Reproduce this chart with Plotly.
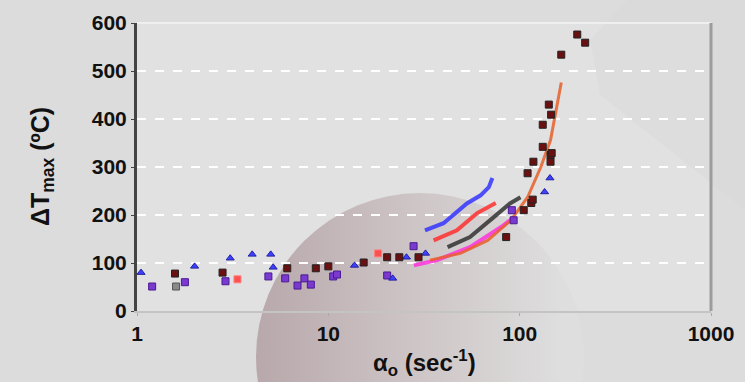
import base64
import plotly.graph_objects as go

# ---------------- data ----------------
blue_tri_x = [1.05, 2.0, 3.07, 4.0, 5.0, 5.15, 13.7, 21.7, 25.6, 32.2, 135, 144]
blue_tri_y = [80, 93, 110, 118, 118, 91, 95, 68, 112, 120, 248, 277]

purple_x = [1.2, 1.78, 2.9, 4.86, 5.95, 6.9, 7.5, 8.1, 10.6, 11.1, 20.3, 27.9, 91, 93]
purple_y = [51, 60, 62, 72, 68, 53, 68, 55, 72, 76, 74, 135, 210, 189]

dark_x = [1.58, 2.8, 6.1, 8.6, 10.0, 15.3, 20.3, 23.5, 29.6, 85, 105, 110, 115, 117,
          118, 132, 132, 142, 145, 145, 146, 147, 165, 200, 220]
dark_y = [78, 80, 89, 89, 93, 101, 112, 112, 112, 154, 210, 287, 225, 232,
          311, 342, 388, 430, 311, 325, 409, 329, 534, 576, 559]

gray_x = [1.6]
gray_y = [51]

red_pt_x = [3.35, 18.2]
red_pt_y = [66, 120]

blue_curve_x = [32, 40, 53, 62.5, 69, 72]
blue_curve_y = [168, 183, 224, 241, 258, 277]

red_curve_x = [35.5, 47, 60, 70, 75]
red_curve_y = [147, 168, 204, 220, 225]

black_curve_x = [42, 55, 73, 89, 101]
black_curve_y = [133, 154, 195, 224, 237]

magenta_curve_x = [28, 37, 55, 80, 93]
magenta_curve_y = [95, 106, 133, 175, 195]

fit_x = [34, 49, 68, 90, 110, 129, 145, 165]
fit_y = [106, 120, 147, 189, 237, 300, 356, 476]

x_ticks = [1, 10, 100, 1000]
y_ticks = [0, 100, 200, 300, 400, 500, 600]

# ---------------- geometry ----------------
W, H = 745, 382
ML, MR, MT, MB = 137, 34, 23, 71
PW, PH = W - ML - MR, H - MT - MB

FONT = "Liberation Sans, Arial, sans-serif"

# decorative slide background as an inline SVG
svg = f"""<svg xmlns="http://www.w3.org/2000/svg" width="{W}" height="{H}" viewBox="0 0 {W} {H}">
<defs>
<linearGradient id="g" x1="256" y1="0" x2="560" y2="0" gradientUnits="userSpaceOnUse">
<stop offset="0" stop-color="#b8a8ab"/>
<stop offset="0.45" stop-color="#cbc1c2"/>
<stop offset="1" stop-color="#dedede"/>
</linearGradient>
</defs>
<rect width="{W}" height="{H}" fill="#dcdcdc"/>
<rect x="{ML}" y="{MT}" width="{PW}" height="{PH}" fill="#e1e1e1"/>
<polygon points="627,0 745,0 745,210 600,95 590,40" fill="#d6d6d6" opacity="0.35"/>
<circle cx="420" cy="357" r="164" fill="url(#g)"/>
</svg>"""
svg_uri = "data:image/svg+xml;base64," + base64.b64encode(svg.encode()).decode()

fig = go.Figure()

def curve(x, y, color, width):
    fig.add_trace(go.Scatter(x=x, y=y, mode="lines", line=dict(color=color, width=width),
                             opacity=0.85, showlegend=False, hoverinfo="skip"))

def pts(x, y, color, symbol, line_color):
    fig.add_trace(go.Scatter(x=x, y=y, mode="markers",
                             marker=dict(color=color, symbol=symbol, size=7,
                                         line=dict(color=line_color, width=1)),
                             showlegend=False, hoverinfo="skip"))

curve(magenta_curve_x, magenta_curve_y, "#ff33dd", 4)
curve(black_curve_x, black_curve_y, "#333333", 4)
curve(red_curve_x, red_curve_y, "#ff3030", 4)
curve(blue_curve_x, blue_curve_y, "#3535ff", 4)
curve(fit_x, fit_y, "#e8602a", 3)

pts(gray_x, gray_y, "#8a8a8a", "square", "#555555")
pts(red_pt_x, red_pt_y, "#ff5050", "square", "#ff8080")
pts(purple_x, purple_y, "#7a3ad0", "square", "#4a1a90")
pts(blue_tri_x, blue_tri_y, "#4040ff", "triangle-up", "#2020a0")
pts(dark_x, dark_y, "#6a1010", "square", "#222222")

shapes = [
    dict(type="line", xref="paper", yref="paper", x0=0, x1=1, y0=1, y1=1,
         line=dict(color="#efefef", width=2), layer="below"),
    dict(type="line", xref="paper", yref="paper", x0=1, x1=1, y0=0, y1=1,
         line=dict(color="#9c9c9c", width=3), layer="below"),
]

annotations = [
    dict(text="<b>ΔT<sub>max</sub> (ºC)</b>", xref="paper", yref="paper",
         x=(42 - ML) / PW, y=(MT + PH - 167) / PH, textangle=-90, showarrow=False,
         xanchor="center", yanchor="middle",
         font=dict(size=25, family=FONT, color="#111111")),
    dict(text="<b>α<sub>o</sub> (sec<sup>-1</sup>)</b>", xref="paper", yref="paper",
         x=(424 - ML) / PW, y=(MT + PH - 363) / PH, showarrow=False,
         xanchor="center", yanchor="middle",
         font=dict(size=24, family=FONT, color="#111111")),
]

fig.update_layout(
    width=W, height=H,
    margin=dict(l=ML, r=MR, t=MT, b=MB),
    paper_bgcolor="#dcdcdc",
    plot_bgcolor="rgba(0,0,0,0)",
    images=[dict(source=svg_uri, xref="paper", yref="paper",
                 x=-ML / PW, y=1 + MT / PH, sizex=W / PW, sizey=H / PH,
                 xanchor="left", yanchor="top", sizing="stretch", layer="below")],
    shapes=shapes,
    annotations=annotations,
    font=dict(family=FONT, color="#111111"),
    xaxis=dict(
        type="log", range=[0, 3], tickvals=x_ticks, ticktext=[str(v) for v in x_ticks],
        showgrid=False, zeroline=False,
        showline=True, linecolor="#c4c4c4", linewidth=2,
        ticks="outside", ticklen=3, tickcolor="#aaaaaa",
        tickfont=dict(size=21, family=FONT, weight="bold"),
    ),
    yaxis=dict(
        range=[0, 600], tickvals=y_ticks,
        showgrid=True, gridcolor="#ffffff", gridwidth=2, griddash="dash",
        zeroline=False,
        showline=True, linecolor="#444444", linewidth=3,
        ticks="outside", ticklen=3, tickcolor="#444444",
        tickfont=dict(size=21, family=FONT, weight="bold"),
    ),
)

fig.write_html("out.html")
